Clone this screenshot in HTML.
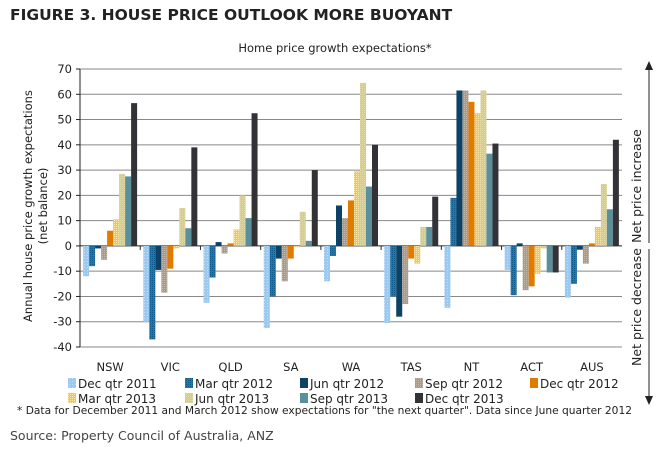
<!DOCTYPE html>
<html><head><meta charset="utf-8"><style>
body{margin:0;background:#fff;width:660px;height:447px;overflow:hidden;font-family:"DejaVu Sans","Liberation Sans",sans-serif}
svg text{font-family:"DejaVu Sans","Liberation Sans",sans-serif}
</style></head><body>
<svg id="chart" width="660" height="447">
<defs>
<pattern id="p1" width="3" height="3" patternUnits="userSpaceOnUse"><rect width="3" height="3" fill="#9cc9f0"/><rect width="1" height="1" fill="#c4def5"/></pattern>
<pattern id="p2" width="2" height="2" patternUnits="userSpaceOnUse"><rect width="2" height="2" fill="#1a7ab5"/><rect width="1" height="1" fill="#0c5a8c"/></pattern>
<pattern id="p4" width="2" height="2" patternUnits="userSpaceOnUse"><rect width="2" height="2" fill="#a89a8c"/><rect width="1" height="1" fill="#c4b8ab"/></pattern>
<pattern id="p6" width="2" height="2" patternUnits="userSpaceOnUse"><rect width="2" height="2" fill="#f7c54a"/><rect width="1" height="1" fill="#fde8a8"/></pattern>
<pattern id="p7" width="2" height="2" patternUnits="userSpaceOnUse"><rect width="2" height="2" fill="#d6cd8c"/><rect width="1" height="1" fill="#e2daa4"/></pattern>
</defs>
<text x="10" y="20" font-size="15.5" font-weight="bold" fill="#222">FIGURE 3. HOUSE PRICE OUTLOOK MORE BUOYANT</text>
<text x="335" y="52" font-size="11.5" text-anchor="middle" fill="#222">Home price growth expectations*</text>
<g id="grid"></g><g id="bars"></g><g id="axes"></g>
<text transform="translate(32,206) rotate(-90)" font-size="11.5" text-anchor="middle" fill="#222"><tspan x="0" dy="0">Annual house price growth expectations</tspan><tspan x="0" dy="15">(net balance)</tspan></text>
<line x1="649" y1="64" x2="649" y2="398" stroke="#222" stroke-width="1"/>
<polygon points="645,70 653,70 649,61" fill="#222"/>
<polygon points="645,396 653,396 649,405" fill="#222"/>
<rect x="640" y="243" width="18" height="6" fill="#fff"/>
<text transform="translate(641,186) rotate(-90)" font-size="12.5" text-anchor="middle" fill="#222">Net price increase</text>
<text transform="translate(641,307) rotate(-90)" font-size="12.5" text-anchor="middle" fill="#222">Net price decrease</text>
<g id="legend"></g>
<text x="17" y="414" font-size="10.5" textLength="615" lengthAdjust="spacingAndGlyphs" fill="#222">* Data for December 2011 and March 2012 show expectations for "the next quarter". Data since June quarter 2012</text>
<text x="10" y="440" font-size="12.5" fill="#444">Source: Property Council of Australia, ANZ</text>
</svg>
<script>
const categories=["NSW","VIC","QLD","SA","WA","TAS","NT","ACT","AUS"];
const seriesNames=["Dec qtr 2011","Mar qtr 2012","Jun qtr 2012","Sep qtr 2012","Dec qtr 2012","Mar qtr 2013","Jun qtr 2013","Sep qtr 2013","Dec qtr 2013"];
const dec11=[-12,-30,-22.5,-32.5,-14,-30.5,-24.5,-9.5,-20.5];
const mar12=[-8,-37,-12.5,-20,-4,-20,19,-19.5,-15];
const jun12=[-1,-9.5,1.5,-5,16,-28,61.5,1,-1.5];
const sep12=[-5.5,-18.5,-3,-14,11,-23,61.5,-17.5,-7];
const dec12=[6,-9,1,-5,18,-5,57,-16,1];
const mar13=[10.5,-1,6.5,-0.5,29.5,-7,52.5,-11,7.5];
const jun13=[28.5,15,20,13.5,64.5,7.5,61.5,-1,24.5];
const sep13=[27.5,7,11,2,23.5,7.5,36.5,-10.5,14.5];
const dec13=[56.5,39,52.5,30,40,19.5,40.5,-10.5,42];
const yTicks=[70,60,50,40,30,20,10,0,-10,-20,-30,-40];
const series=[dec11,mar12,jun12,sep12,dec12,mar13,jun13,sep13,dec13];
const fills=["url(#p1)","url(#p2)","#0b4266","url(#p4)","#e07b00","url(#p6)","url(#p7)","#5b8f9b","#333337"];
const NS="http://www.w3.org/2000/svg";
const x0=80,x1=622,yTop=69,yBot=347,vMax=70,vMin=-40;
const y=v=>yTop+(vMax-v)*(yBot-yTop)/(vMax-vMin);
const gw=(x1-x0)/categories.length, bw=6;
function mk(t,a,p){const e=document.createElementNS(NS,t);for(const k in a)e.setAttribute(k,a[k]);p.appendChild(e);return e;}
const grid=document.getElementById('grid'),bars=document.getElementById('bars'),axes=document.getElementById('axes'),legend=document.getElementById('legend');
yTicks.forEach(t=>{
 const g=mk('line',{x1:x0,x2:x1,y1:y(t),y2:y(t),stroke:t===0?'#222':'#888','stroke-width':1},grid);
 
 
 const tk=mk('line',{x1:x0-4,x2:x0,y1:y(t),y2:y(t),stroke:'#222'},axes);
 
 
 const l=mk('text',{x:x0-8,y:y(t)+4,'font-size':11.5,'text-anchor':'end',fill:'#222'},axes);
 l.textContent=t;
 
 
});
const ax=mk('line',{x1:x0,x2:x0,y1:yTop,y2:yBot,stroke:'#222'},axes);


categories.forEach((c,i)=>{
 const gx=x0+i*gw+(gw-bw*9)/2;
 series.forEach((s,j)=>{
  const v=s[i];const ya=y(Math.max(v,0)),yb=y(Math.min(v,0));
  const r=mk('rect',{x:gx+j*bw,y:ya,width:bw,height:Math.max(yb-ya,0.5),fill:fills[j]},bars);
  
  
 });
 if(i>0){const tk=mk('line',{x1:x0+i*gw,x2:x0+i*gw,y1:y(0),y2:y(0)+4,stroke:'#222'},axes);
 
 }
 const t=mk('text',{x:x0+i*gw+gw/2,y:371,'font-size':11.5,'text-anchor':'middle',fill:'#222'},axes);
 t.textContent=c;
 
 
});
const lx=[68,185,300,415,530];
seriesNames.forEach((n,j)=>{
 const row=j<5?0:1,col=j<5?j:j-5;
 const gx=lx[col],gy=row?393:378;
 const r=mk('rect',{x:gx,y:gy,width:8,height:10,fill:fills[j]},legend);
 
 
 const t=mk('text',{x:gx+10,y:gy+10,'font-size':12,fill:'#222'},legend);
 t.textContent=n;
 
 
});
</script>
</body></html>
